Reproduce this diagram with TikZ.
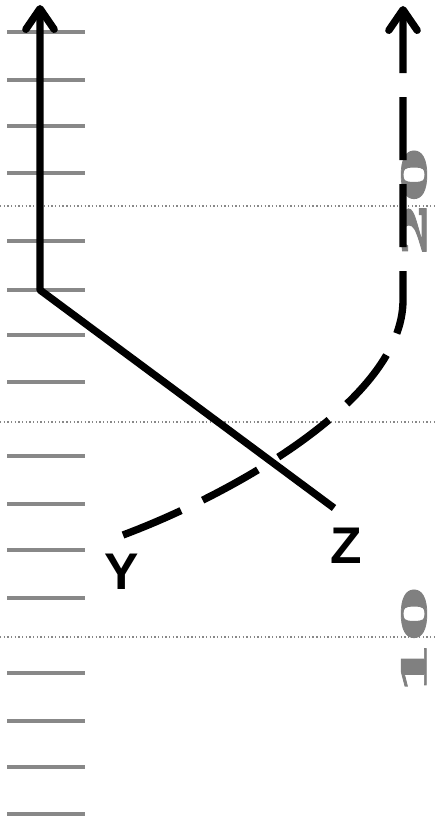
\documentclass[tikz,border=0pt]{standalone}
\usepackage{fontspec}
\usepackage{tikz}
\usetikzlibrary{arrows.meta}
\newfontfamily\labelfont{Liberation Sans}
\newfontfamily\yardfont{DejaVu Serif}[BoldFeatures={FakeBold=2}]
\definecolor{hashgray}{RGB}{136,136,136}
\definecolor{numgray}{RGB}{128,128,128}

\begin{document}
\begin{tikzpicture}[
  x=0.03cm, y=-0.03cm,
  hash/.style={draw=hashgray, line width=0.12cm},
  yardline/.style={draw=hashgray, line width=0.04cm, dotted},
  route/.style={draw=black, line width=0.22cm, line join=round},
  tip/.style={-{Straight Barb[length=0.62cm, width=0.85cm, round]}},
  player/.style={font=\labelfont\bfseries\fontsize{44}{44}\selectfont, inner sep=0pt},
  yardnum/.style={font=\yardfont\bfseries\fontsize{29}{29}\selectfont,
                  text=numgray, rotate=90, inner sep=0pt}
]
  \useasboundingbox (0,0) rectangle (437,824);

  % field markings
  \foreach \yy in {32,80,126,173,241,290,335,382,456,504,550,598,673,721,767,814}
    \draw[hash] (7,\yy) -- (85,\yy);
  \foreach \yy in {206,422,637}
    \draw[yardline] (0,\yy) -- (437,\yy);
  \node[yardnum] (num20) at (414,202) {\scalebox{2.3}[1]{20}};
  \node[yardnum] (num10) at (414,641) {\scalebox{2.3}[1]{10}};

  % players
  \node[player] (ylabel) at (122,572) {Y};
  \node[player] (zlabel) at (346,546) {Z};

  % routes
  \coordinate (zstart) at (334,508);
  \coordinate (zbreak) at (40,290);
  \coordinate (ztop)   at (40,5);
  \coordinate (ystart) at (123,535);
  \coordinate (ybreak) at (403,300);
  \coordinate (ytop)   at (403,6);

  \draw[route, tip] (zstart) -- (zbreak) -- (ztop);
  \draw[route, tip, dash pattern=on 1.89cm off 0.72cm]
    (ystart) .. controls (230,495) and (403,400) .. (ybreak) -- (ytop);
\end{tikzpicture}
\end{document}
